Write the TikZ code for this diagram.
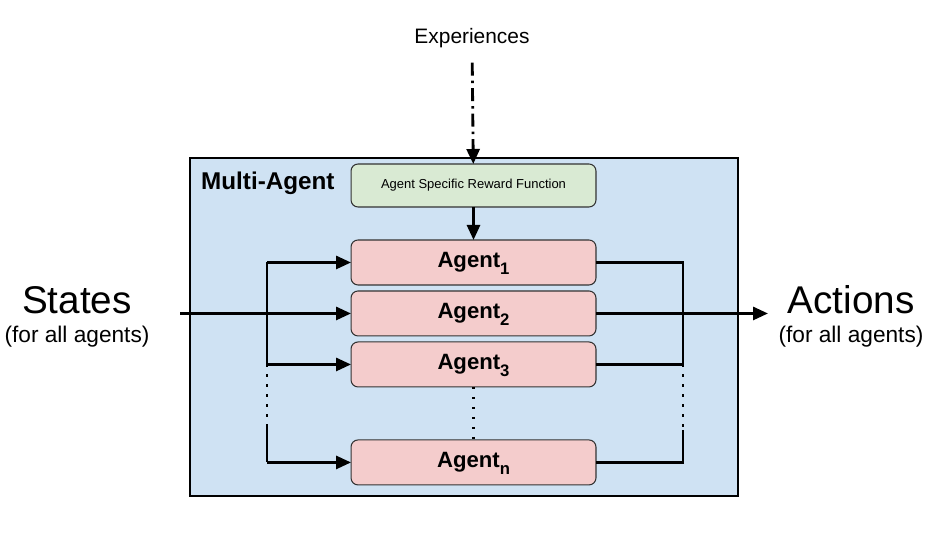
\documentclass[tikz,border=0pt]{standalone}
\usepackage{fontspec}
\setmainfont{Liberation Sans}
\usepackage{tikz}
\usetikzlibrary{arrows.meta,positioning}
\definecolor{boxblue}{HTML}{CFE2F3}
\definecolor{rewardgreen}{HTML}{D9EAD3}
\definecolor{agentred}{HTML}{F4CCCC}
\newcommand{\agsub}[1]{\smash{\raisebox{-0.6ex}{\fontsize{9.5}{10}\selectfont #1}}}

\begin{document}
\begin{tikzpicture}[
		x=0.02cm, y=-0.02cm,
		flow/.style={-{Triangle[length=0.3cm,width=0.26cm]},line width=1.6pt},
		wire/.style={line width=1.6pt},
		gap/.style={line width=1.6pt,dash pattern=on 0.05cm off 0.15cm},
		agent/.style={draw=black!80,line width=0.6pt,rounded corners=4pt,fill=agentred,
			minimum width=4.9cm,minimum height=0.9cm,inner sep=0pt,outer sep=0pt,
			font=\bfseries\fontsize{12.6}{14}\selectfont},
		scale=1]
		\useasboundingbox (0,0) rectangle (933,543);
		
		% Draw the frame
		\draw[line width=0.6pt,fill=boxblue] (190,158) rectangle (738,496);
		\node[anchor=west,font=\bfseries\fontsize{13.8}{16}\selectfont] (ma) at (195,183) {Multi-Agent};
		
		% Draw the boxes
		\node[draw=black!80,line width=0.6pt,rounded corners=4pt,fill=rewardgreen,outer sep=0pt,
			minimum width=4.9cm,minimum height=0.86cm,font=\fontsize{7.4}{9}\selectfont]
			(rw) at (473.5,185.5) {Agent Specific Reward Function};
		\node[agent,below=0.66cm of rw] (a1) {Agent\agsub{1}};
		\node[agent,below=0.12cm of a1] (a2) {Agent\agsub{2}};
		\node[agent,below=0.12cm of a2] (a3) {Agent\agsub{3}};
		\node[agent,below=1.06cm of a3] (an) {Agent\agsub{n}};
		
		% Texts outside
		\node[font=\fontsize{11.9}{14}\selectfont] (exp) at (472,38) {Experiences};
		\node[font=\fontsize{22}{26}\selectfont] (st) at (77,300) {States};
		\node[font=\fontsize{12.9}{15}\selectfont] (stsub) at (77,337) {(for all agents)};
		\node[font=\fontsize{22}{26}\selectfont] (ac) at (851,300) {Actions};
		\node[font=\fontsize{12.9}{15}\selectfont] (acsub) at (851,337) {(for all agents)};
		
		\draw
		(180,0) coordinate (sin)
		(768,0) coordinate (aout)
		(267,0) coordinate (lx)
		(683,0) coordinate (rx)
		(267,427) coordinate (lgap)
		(683,430) coordinate (rgap);
		
		% Experiences into the reward function
		\draw[flow,dash pattern=on 0.26cm off 0.1cm on 0.05cm off 0.1cm,shorten <=5pt] (exp) -- (rw);
		\draw[flow] (rw) -- (a1);
		
		% States in
		\draw[flow] (sin |- a2) -- (a2.west);
		\draw[wire] (lx |- a1) -- (lx |- a3);
		\draw[gap] (lx |- a3) -- (lgap);
		\draw[wire] (lgap) -- (lx |- an);
		\draw[flow] (lx |- a1) -- (a1.west);
		\draw[flow] (lx |- a3) -- (a3.west);
		\draw[flow] (lx |- an) -- (an.west);
		\draw[gap] (a3) -- (an);
		
		% Actions out
		\draw[wire] (a1.east) -- (rx |- a1) -- (rx |- a3) -- (a3.east);
		\draw[gap] (rx |- a3) -- (rgap);
		\draw[wire] (rgap) -- (rx |- an) -- (an.east);
		\draw[flow] (a2.east) -- (aout |- a2);
		
\end{tikzpicture}
\end{document}
